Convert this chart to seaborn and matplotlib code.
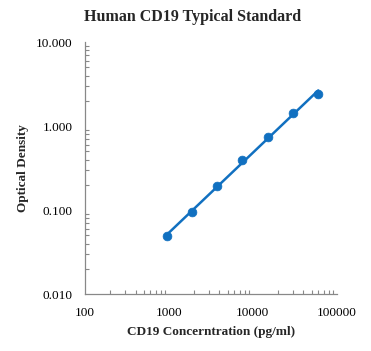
import numpy as np
import pandas as pd
import matplotlib
matplotlib.use("Agg")
import matplotlib.pyplot as plt
import seaborn as sns
from matplotlib.ticker import FixedLocator, LogLocator, NullFormatter, FuncFormatter

# standard curve data
conc = [937.5, 1875, 3750, 7500, 15000, 30000, 60000]
od = [0.049, 0.094, 0.193, 0.39, 0.75, 1.45, 2.38]

x_ticks = [100, 1000, 10000, 100000]
y_ticks = [0.01, 0.1, 1, 10]

df = pd.DataFrame({"conc": conc, "od": od})

# power fit (straight line in log-log)
slope, icpt = np.polyfit(np.log10(df["conc"]), np.log10(df["od"]), 1)
fit = pd.DataFrame({"conc": [conc[0], conc[-1]]})
fit["od"] = 10 ** (icpt + slope * np.log10(fit["conc"]))

sns.set_style("white")
plt.rcParams["font.family"] = ["Liberation Serif", "DejaVu Serif"]

fig = plt.figure(figsize=(3.71, 3.51), dpi=100)
ax = fig.add_axes([0.229, 0.162, 0.679, 0.718])

blue = "#1170C0"
sns.lineplot(data=fit, x="conc", y="od", ax=ax, color=blue, linewidth=1.8)
sns.scatterplot(data=df, x="conc", y="od", ax=ax, color=blue, s=40,
                edgecolor=blue, zorder=3)

ax.set_xscale("log")
ax.set_yscale("log")
ax.set_xlim(100, 100000)
ax.set_ylim(0.01, 10)

ax.xaxis.set_major_locator(FixedLocator(x_ticks))
ax.yaxis.set_major_locator(FixedLocator(y_ticks))
ax.xaxis.set_minor_locator(LogLocator(base=10, subs=np.arange(2, 10)))
ax.yaxis.set_minor_locator(LogLocator(base=10, subs=np.arange(2, 10)))
ax.xaxis.set_minor_formatter(NullFormatter())
ax.yaxis.set_minor_formatter(NullFormatter())
ax.xaxis.set_major_formatter(FuncFormatter(lambda v, p: f"{v:.0f}"))
ax.yaxis.set_major_formatter(FuncFormatter(lambda v, p: f"{v:.3f}"))

ax.tick_params(which="major", length=0, labelsize=9.5, colors="black")
ax.tick_params(axis="x", which="major", pad=9)
ax.tick_params(axis="y", which="major", pad=9)
ax.tick_params(which="minor", direction="in", length=3, width=0.8, color="#888888")
ax.tick_params(axis="x", which="minor", bottom=True)
ax.tick_params(axis="y", which="minor", left=True)

for side in ["top", "right"]:
    ax.spines[side].set_visible(False)
for side in ["left", "bottom"]:
    ax.spines[side].set_color("#888888")
    ax.spines[side].set_linewidth(0.9)

ax.set_xlabel("CD19 Concerntration (pg/ml)", fontsize=9.5, fontweight="bold", labelpad=5)
ax.set_ylabel("Optical Density", fontsize=9.5, fontweight="bold", labelpad=5)
fig.suptitle("Human CD19 Typical Standard", fontsize=11.5, fontweight="bold",
             x=0.52, y=0.975)

fig.savefig("out.png", dpi=100, facecolor="white")
